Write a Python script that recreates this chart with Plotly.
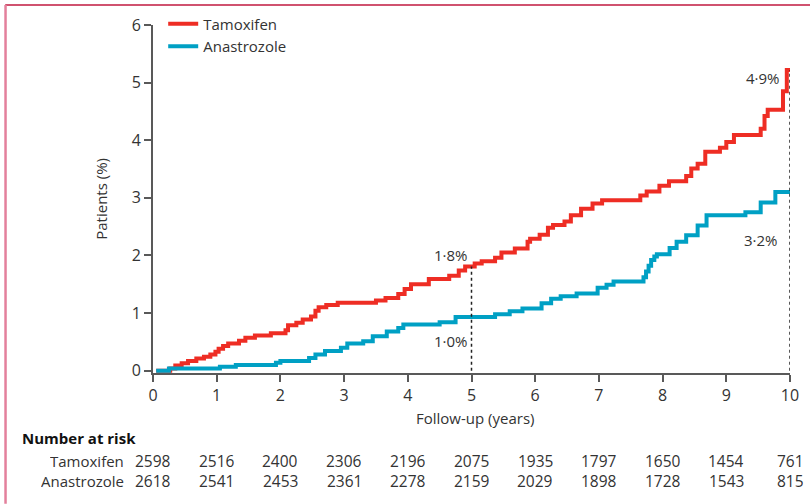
import plotly.graph_objects as go

# ---- data ----
tam_t = [0.05, 0.27, 0.35, 0.45, 0.55, 0.68, 0.80, 0.90, 0.98, 1.03, 1.10, 1.18, 1.35, 1.45, 1.60, 1.85,
         2.08, 2.12, 2.25, 2.35, 2.48, 2.55, 2.60, 2.72, 2.90, 3.50, 3.65, 3.85, 3.95, 4.05, 4.33, 4.65,
         4.80, 4.90, 5.05, 5.16, 5.37, 5.47, 5.68, 5.88, 5.92, 6.07, 6.20, 6.28, 6.46, 6.56, 6.72, 6.90,
         7.05, 7.65, 7.75, 7.95, 8.10, 8.37, 8.45, 8.55, 8.67, 8.90, 9.00, 9.12, 9.54, 9.60, 9.65, 9.89,
         9.95, 10.0]
tam_v = [0.00, 0.04, 0.09, 0.13, 0.17, 0.21, 0.24, 0.28, 0.33, 0.38, 0.43, 0.47, 0.52, 0.57, 0.61, 0.65,
         0.70, 0.79, 0.83, 0.89, 0.94, 1.04, 1.10, 1.14, 1.18, 1.22, 1.26, 1.33, 1.42, 1.50, 1.59, 1.65,
         1.74, 1.81, 1.86, 1.90, 1.96, 2.05, 2.12, 2.24, 2.29, 2.36, 2.48, 2.53, 2.59, 2.70, 2.81, 2.90,
         2.96, 3.04, 3.11, 3.21, 3.29, 3.38, 3.51, 3.59, 3.80, 3.87, 3.97, 4.09, 4.20, 4.42, 4.53, 4.85,
         5.22, 5.22]

ana_t = [0.05, 0.25, 1.05, 1.30, 1.93, 2.00, 2.45, 2.55, 2.70, 2.95, 3.05, 3.30, 3.45, 3.67, 3.85, 3.93,
         4.50, 4.75, 5.37, 5.60, 5.80, 6.10, 6.25, 6.40, 6.65, 6.98, 7.12, 7.23, 7.70, 7.74, 7.78, 7.82,
         7.87, 7.91, 8.11, 8.22, 8.37, 8.55, 8.69, 9.30, 9.54, 9.77, 10.0]
ana_v = [0.00, 0.04, 0.07, 0.10, 0.14, 0.17, 0.22, 0.28, 0.34, 0.40, 0.47, 0.51, 0.60, 0.68, 0.74, 0.80,
         0.84, 0.93, 0.98, 1.03, 1.08, 1.17, 1.25, 1.29, 1.34, 1.44, 1.49, 1.55, 1.62, 1.72, 1.82, 1.92,
         1.98, 2.02, 2.13, 2.24, 2.35, 2.52, 2.70, 2.75, 2.92, 3.10, 3.10]

years = [0, 1, 2, 3, 4, 5, 6, 7, 8, 9, 10]
risk_tam = [2598, 2516, 2400, 2306, 2196, 2075, 1935, 1797, 1650, 1454, 761]
risk_ana = [2618, 2541, 2453, 2361, 2278, 2159, 2029, 1898, 1728, 1543, 815]

y_ticks = [0, 1, 2, 3, 4, 5, 6]

# highlighted estimates (label, year, curve value at that year)
marks = [("1·8%", 5, 1.81), ("1·0%", 5, 0.93), ("4·9%", 10, 5.22), ("3·2%", 10, 3.10)]

RED = "#ee2d24"
BLUE = "#00a0c4"
AX = "#595959"
TXT = "#333333"
FONT = "Open Sans"

fig = go.Figure()
fig.add_trace(go.Scatter(x=tam_t, y=tam_v, mode="lines", name="Tamoxifen",
                         line=dict(color=RED, width=4, shape="hv")))
fig.add_trace(go.Scatter(x=ana_t, y=ana_v, mode="lines", name="Anastrozole",
                         line=dict(color=BLUE, width=4, shape="hv")))

# dashed reference lines at 5 and 10 years
for yr, top in [(5, marks[0][2]), (10, marks[2][2])]:
    fig.add_trace(go.Scatter(x=[yr, yr], y=[0, top], mode="lines", showlegend=False,
                             line=dict(color="#222222", width=1.5, dash="3px,3px"), hoverinfo="skip"))

# annotations for estimates
ann = []
ann.append(dict(x=4.98, y=2.00, text=marks[0][0], xanchor="right", yanchor="middle"))
ann.append(dict(x=4.98, y=0.52, text=marks[1][0], xanchor="right", yanchor="middle"))
ann.append(dict(x=9.88, y=5.08, text=marks[2][0], xanchor="right", yanchor="middle"))
ann.append(dict(x=9.85, y=2.26, text=marks[3][0], xanchor="right", yanchor="middle"))
for a in ann:
    a.update(xref="x", yref="y", showarrow=False, font=dict(family=FONT, size=15, color=TXT))

ROW1, ROW2 = -0.250, -0.309

# number at risk table
for yr, nt, na in zip(years, risk_tam, risk_ana):
    ann.append(dict(x=yr, y=ROW1, xref="x", yref="paper", text=str(nt), showarrow=False, height=17,
                    xanchor="center", yanchor="middle", font=dict(family=FONT, size=15.5, color=TXT)))
    ann.append(dict(x=yr, y=ROW2, xref="x", yref="paper", text=str(na), showarrow=False, height=17,
                    xanchor="center", yanchor="middle", font=dict(family=FONT, size=15.5, color=TXT)))

ann.append(dict(x=-0.209, y=-0.184, xref="paper", yref="paper", text="<b>Number at risk</b>",
                showarrow=False, xanchor="left", yanchor="middle", height=17,
                font=dict(family=FONT, size=15, color="#111111")))
ann.append(dict(x=-0.043, y=ROW1, xref="paper", yref="paper", text="Tamoxifen", showarrow=False,
                height=17, xanchor="right", yanchor="middle", font=dict(family=FONT, size=15, color=TXT)))
ann.append(dict(x=-0.043, y=ROW2, xref="paper", yref="paper", text="Anastrozole", showarrow=False,
                height=17, xanchor="right", yanchor="middle", font=dict(family=FONT, size=15, color=TXT)))
ann.append(dict(x=0.505, y=-0.130, xref="paper", yref="paper", text="Follow-up (years)", showarrow=False,
                xanchor="center", yanchor="middle", font=dict(family=FONT, size=15, color=TXT)))
ann.append(dict(x=-0.082, y=0.50, xref="paper", yref="paper", text="Patients (%)", showarrow=False,
                textangle=-90, xanchor="center", yanchor="middle",
                font=dict(family=FONT, size=15, color=TXT)))

shapes = [
    dict(type="line", xref="paper", yref="paper", x0=-0.232, x1=1.04, y0=1.0575, y1=1.0575,
         line=dict(color="#c0193f", width=1.5)),
    dict(type="line", xref="paper", yref="paper", x0=-0.2315, x1=-0.2315, y0=1.0575, y1=-0.376,
         line=dict(color="#e3809c", width=2.5)),
]

fig.update_layout(
    width=810, height=504,
    margin=dict(l=153, r=20, t=25, b=131, autoexpand=False),
    paper_bgcolor="white", plot_bgcolor="white",
    font=dict(family=FONT, size=15, color=TXT),
    showlegend=True,
    legend=dict(x=0.016, y=1.05, xanchor="left", yanchor="top", bgcolor="rgba(0,0,0,0)",
                font=dict(family=FONT, size=15, color=TXT), tracegroupgap=0, itemwidth=30),
    annotations=ann,
    shapes=shapes,
    xaxis=dict(range=[0, 10], tickvals=years, ticktext=[str(y) for y in years],
               showline=True, linecolor=AX, linewidth=2, ticks="outside", ticklen=7,
               tickwidth=1.5, tickcolor=AX, showgrid=False, zeroline=False,
               tickfont=dict(family=FONT, size=16, color=TXT), layer="below traces"),
    yaxis=dict(range=[-0.04, 6], tickvals=y_ticks, showline=True, linecolor=AX, linewidth=2,
               ticks="outside", ticklen=7, tickwidth=1.5, tickcolor=AX, showgrid=False,
               zeroline=False, tickfont=dict(family=FONT, size=16, color=TXT),
               layer="below traces"),
)

fig.write_html("out.html", config={"displayModeBar": False},
               post_script="document.body.style.margin='0';document.body.style.padding='0';")
